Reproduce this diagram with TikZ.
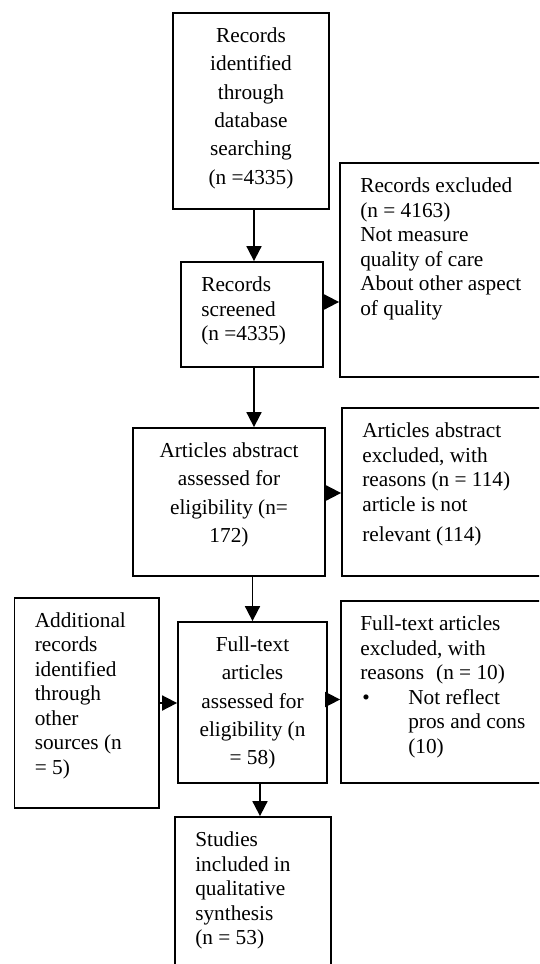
\documentclass[tikz,border=0pt]{standalone}
\usepackage{fontspec}
\setmainfont{Liberation Serif}
\usetikzlibrary{arrows.meta}
\tikzset{
  box/.style={draw,line width=1.8pt,inner sep=0pt},
  txtl/.style={anchor=north west,inner sep=0pt,align=left,font=\fontsize{21.3}{24.5}\selectfont},
  txtc/.style={anchor=north,inner sep=0pt,align=center,font=\fontsize{21.3}{28.3}\selectfont},
  arr/.style={line width=1.8pt,-{Triangle[length=15pt,width=15pt]}}
}
\begin{document}
\begin{tikzpicture}[x=1pt,y=-1pt]
\useasboundingbox (0,0) rectangle (539,964);
\clip (0,0) rectangle (539,964);
% main column
\node[box,minimum width=156,minimum height=196](ident) at (251,111){};
\node[box,minimum width=142,minimum height=105](screen) at (252,314.5){};
\node[box,minimum width=192,minimum height=148](abstr) at (229,502){};
\node[box,minimum width=149,minimum height=161](full) at (252.5,702.5){};
\node[box,minimum width=156,minimum height=158](final) at (253,896){};
% side boxes
\node[box,minimum width=205,minimum height=214](excl) at (442.5,270){};
\node[box,minimum width=203,minimum height=168](abexcl) at (443.5,492){};
\node[box,minimum width=204,minimum height=182](fexcl) at (443,692){};
\node[box,minimum width=144.5,minimum height=210](addl) at (86.75,703){};
%
\node[txtc](identT) at ([yshift=-15.5pt]ident.north){Records\\identified\\through\\database\\searching\\(n =4335)};
\node[txtl](screenT) at ([shift={(21pt,-15.5pt)}]screen.north west){Records\\screened\\(n =4335)};
\node[txtc](abstrT) at ([yshift=-15.5pt]abstr.north){Articles abstract\\assessed for\\eligibility (n=\\172)};
\node[txtc](fullT) at ([yshift=-15.5pt]full.north){Full-text\\articles\\assessed for\\eligibility (n\\= 58)};
\node[txtl](finalT) at ([shift={(21pt,-15.5pt)}]final.north west){Studies\\included in\\qualitative\\synthesis\\(n = 53)};
\node[txtl](exclT) at ([shift={(21pt,-15.5pt)}]excl.north west){Records excluded\\(n = 4163)\\Not measure\\quality of care\\About other aspect\\of quality};
\node[txtl](abexclT) at ([shift={(21pt,-15.5pt)}]abexcl.north west){Articles abstract\\excluded, with\\reasons (n = 114)\\article is not\\[6pt]relevant (114)};
\node[txtl](fexclT) at ([shift={(20pt,-15.5pt)}]fexcl.north west){Full-text articles\\excluded, with\\reasons\hspace{12pt}(n = 10)\\\makebox[48pt][l]{\hspace*{2pt}•}Not reflect\\\hspace*{48pt}pros and cons\\\hspace*{48pt}(10)};
\node[txtl](addlT) at ([shift={(21pt,-15pt)}]addl.north west){Additional\\records\\identified\\through\\other\\sources (n\\= 5)};
%
\draw[arr]([xshift=3pt]ident.south)--([xshift=3pt]ident.south |- screen.north);
\draw[arr]([xshift=2pt]screen.south)--([xshift=2pt]screen.south |- abstr.north);
\draw[arr](full.north |- abstr.south)--(full.north);
\draw[arr]([xshift=7.5pt]full.south)--([xshift=7.5pt]full.south |- final.north);
\draw[arr]([yshift=12.5pt]screen.east)--([yshift=12.5pt]screen.east -| excl.west);
\draw[arr]([yshift=9pt]abstr.east)--([yshift=9pt]abstr.east -| abexcl.west);
\draw[arr]([yshift=3pt]full.east)--([yshift=3pt]full.east -| fexcl.west);
\draw[arr](addl.east)--(addl.east -| full.west);
\end{tikzpicture}
\end{document}
